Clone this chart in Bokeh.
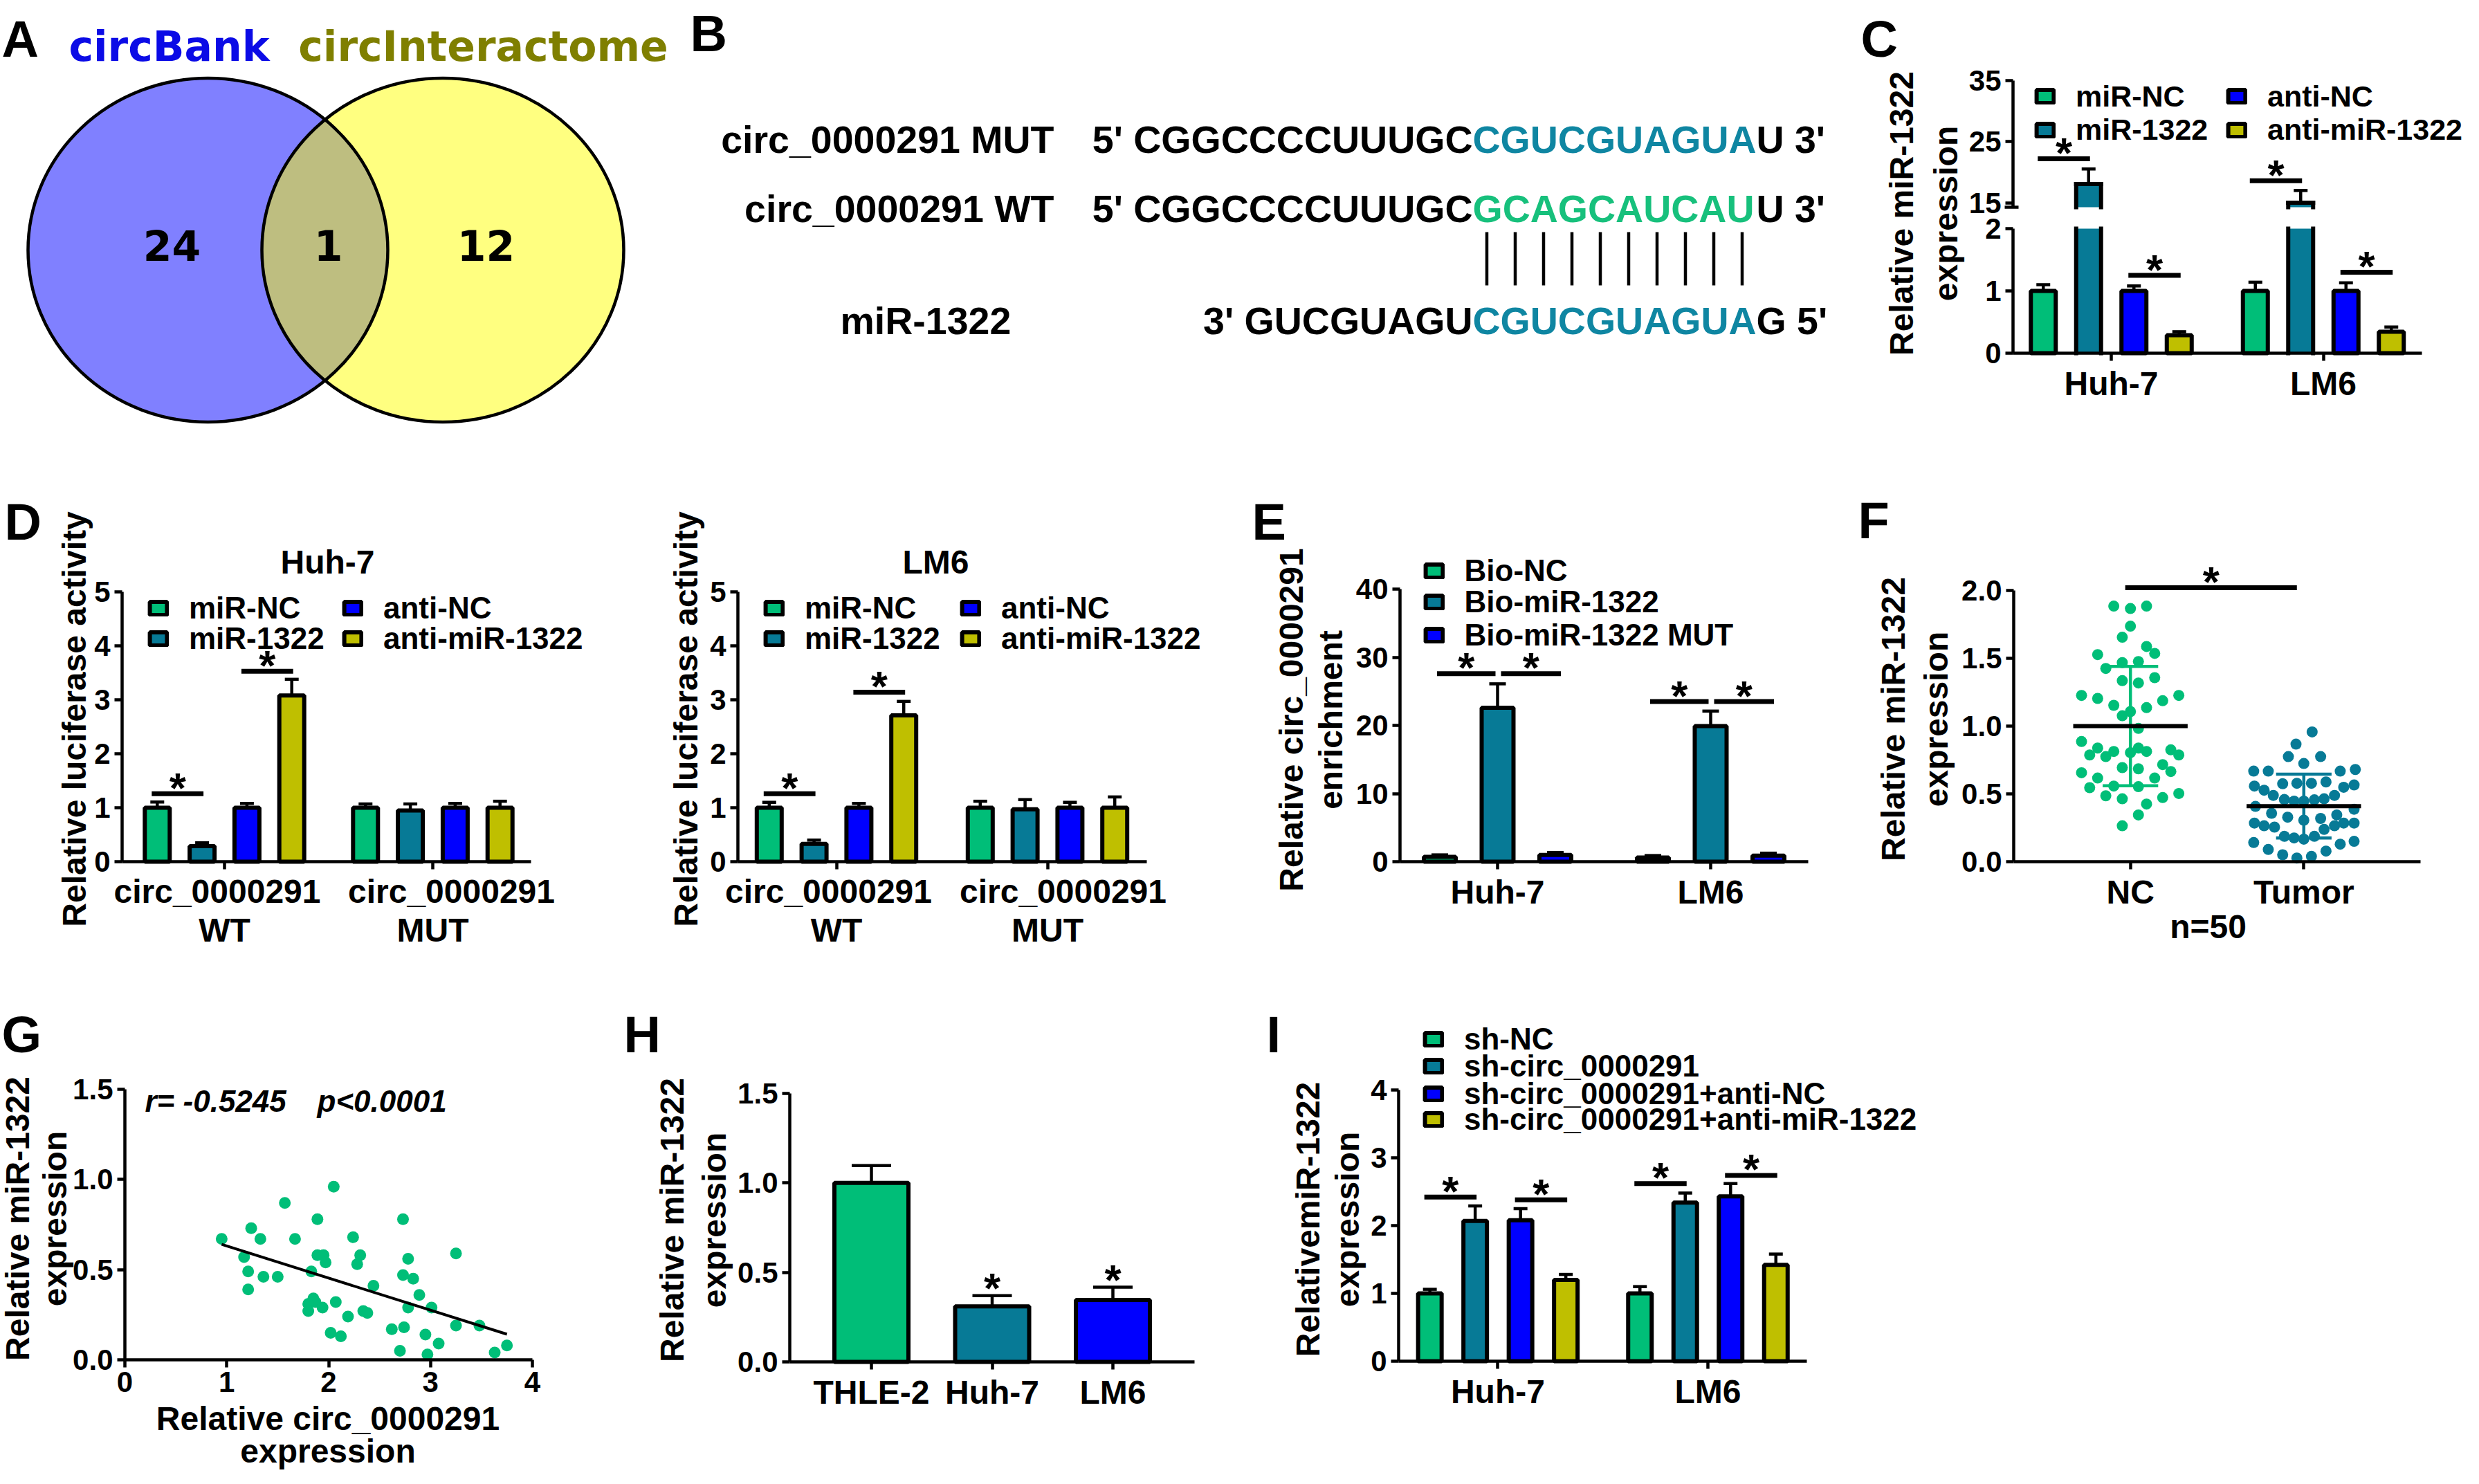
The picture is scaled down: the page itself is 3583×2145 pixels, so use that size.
import numpy as np
from bokeh.plotting import figure
from bokeh.models import (Range1d, Label, Legend, LegendItem, FixedTicker, NumeralTickFormatter,
                          LinearAxis)
from bokeh.layouts import row, column
from bokeh.embed import file_html
from bokeh.resources import INLINE
from bokeh.core.properties import value

# ======================= DATA =======================
venn_titles = ["circBank", "circInteractome"]
venn_counts = [24, 1, 12]

b_names = ["circ_0000291 MUT", "circ_0000291 WT", "miR-1322"]
b_mut = ["5' CGGCCCCUUUGC", "CGUCGUAGUA", "U 3'"]
b_wt = ["5' CGGCCCCUUUGC", "GCAGCAUCAU", "U 3'"]
b_mir = ["3' GUCGUAGU", "CGUCGUAGUA", "G 5'"]

c_groups = ["Huh-7", "LM6"]
c_series = ["miR-NC", "miR-1322", "anti-NC", "anti-miR-1322"]
c_mean = [[1.00, 18.06, 1.00, 0.29], [1.00, 15.00, 1.00, 0.345]]
c_err = [[0.10, 2.45, 0.08, 0.055], [0.14, 2.00, 0.13, 0.075]]

d_groups = [("circ_0000291", "WT"), ("circ_0000291", "MUT")]
d_huh7_mean = [[1.00, 0.29, 1.00, 3.08], [1.00, 0.95, 1.00, 1.00]]
d_huh7_err = [[0.105, 0.06, 0.08, 0.30], [0.07, 0.12, 0.08, 0.12]]
d_lm6_mean = [[1.00, 0.33, 1.00, 2.71], [1.00, 0.97, 1.00, 1.00]]
d_lm6_err = [[0.10, 0.07, 0.08, 0.26], [0.12, 0.18, 0.10, 0.20]]

e_groups = ["Huh-7", "LM6"]
e_series = ["Bio-NC", "Bio-miR-1322", "Bio-miR-1322 MUT"]
e_mean = [[0.7, 22.6, 1.0], [0.6, 19.9, 0.9]]
e_err = [[0.3, 3.5, 0.35], [0.3, 2.2, 0.35]]

f_groups = ["NC", "Tumor"]
f_nc_x = [-0.096, 0, 0.093, 0, -0.047, 0.093, 0.140, -0.189, -0.047, 0.046,
          -0.142, -0.047, 0.046, 0.140, -0.282, -0.189, 0.279, 0.186, -0.096, 0.093,
          0, -0.047, 0.046, -0.282, -0.189, -0.235, -0.142, -0.096, 0, 0.046,
          0.093, 0.233, 0.279, -0.047, 0.046, 0.186, 0.233, -0.282, -0.189, 0.140,
          -0.235, -0.096, 0.046, -0.142, -0.047, 0.186, 0.279, 0.093, 0.046, -0.047]
f_nc_y = [1.885, 1.867, 1.885, 1.737, 1.655, 1.587, 1.536, 1.527, 1.468, 1.476,
          1.425, 1.335, 1.318, 1.357, 1.226, 1.204, 1.226, 1.187, 1.153, 1.136,
          1.107, 1.076, 0.983, 0.886, 0.838, 0.787, 0.775, 0.813, 0.804, 0.838,
          0.813, 0.825, 0.787, 0.694, 0.685, 0.716, 0.665, 0.656, 0.617, 0.617,
          0.546, 0.558, 0.553, 0.486, 0.464, 0.473, 0.503, 0.425, 0.345, 0.265]
f_tu_x = [0.048, -0.045, -0.089, 0.097, 0, -0.289, -0.205, 0.210, 0.297, -0.285,
          -0.229, -0.122, -0.040, 0.044, 0.128, 0.230, 0.290, -0.176, -0.112, -0.056,
          0, 0.061, 0.117, 0.177, -0.279, 0.290, -0.186, -0.093, 0, 0.097,
          0.190, -0.285, -0.229, -0.169, 0.117, 0.177, 0.230, 0.290, -0.112, -0.056,
          0, 0.061, -0.289, -0.205, 0.210, 0.290, -0.122, -0.040, 0.044, 0.128]
f_tu_y = [0.957, 0.867, 0.775, 0.775, 0.724, 0.668, 0.668, 0.668, 0.680, 0.558,
          0.527, 0.575, 0.578, 0.578, 0.588, 0.549, 0.566, 0.489, 0.459, 0.447,
          0.447, 0.456, 0.464, 0.489, 0.408, 0.387, 0.357, 0.328, 0.306, 0.319,
          0.345, 0.285, 0.265, 0.255, 0.238, 0.265, 0.285, 0.285, 0.187, 0.175,
          0.166, 0.187, 0.141, 0.090, 0.129, 0.150, 0.051, 0.027, 0.039, 0.078]
f_mean = [1.00, 0.41]
f_sd = [0.44, 0.235]
f_note = "n=50"

g_x = [0.95, 1.24, 1.33, 1.17, 1.21, 1.36, 1.50, 1.21, 1.57, 1.67, 1.89, 1.89, 1.95, 1.97,
       1.83, 1.85, 1.87, 1.80, 1.80, 1.94, 2.05, 2.07, 2.02, 2.12, 2.19, 2.24, 2.31, 2.28,
       2.34, 2.38, 2.44, 2.73, 2.78, 2.73, 2.83, 2.78, 2.89, 3.01, 2.74, 2.62, 2.95, 2.70,
       2.97, 3.08, 3.25, 3.25, 3.48, 3.63, 3.75]
g_y = [0.67, 0.73, 0.67, 0.57, 0.49, 0.46, 0.46, 0.39, 0.87, 0.67, 0.78, 0.58, 0.58, 0.54,
       0.49, 0.34, 0.32, 0.31, 0.27, 0.29, 0.96, 0.32, 0.15, 0.13, 0.24, 0.68, 0.58, 0.53,
       0.27, 0.26, 0.41, 0.78, 0.56, 0.47, 0.45, 0.29, 0.36, 0.29, 0.18, 0.17, 0.14, 0.05,
       0.03, 0.09, 0.59, 0.19, 0.19, 0.04, 0.08]
g_stats = ["r= -0.5245", "p<0.0001"]

h_cells = ["THLE-2", "Huh-7", "LM6"]
h_mean = [1.00, 0.31, 0.346]
h_err = [0.097, 0.06, 0.072]
h_sig = [1, 2]

i_groups = ["Huh-7", "LM6"]
i_series = ["sh-NC", "sh-circ_0000291", "sh-circ_0000291+anti-NC", "sh-circ_0000291+anti-miR-1322"]
i_mean = [[1.00, 2.07, 2.08, 1.20], [1.00, 2.34, 2.43, 1.42]]
i_err = [[0.06, 0.22, 0.17, 0.08], [0.10, 0.14, 0.19, 0.16]]

# ======================= STYLE =======================
FONT = "Liberation Sans"
VENN_FONT = "DejaVu Sans"
GREEN = "#00BE78"
TEAL = "#077A96"
BLUE = "#0000FF"
OLIVE = "#BFBF00"
SEQ_TEAL = "#0F86A2"
SEQ_GREEN = "#17C07C"
COLORS4 = [GREEN, TEAL, BLUE, OLIVE]
COLORS3 = [GREEN, TEAL, BLUE]
ITEM_H = 50
LEG_SHIFT = 8
BAR_LW = 6


class Panel:
    """A figure placed at (ox, oy) of size w x h (reference pixels); its frame is the whole
    figure. Data mapping: x = (ref_x - x0ref)/xppu, y = (y0ref - ref_y)/yppu."""

    def __init__(self, ox, oy, w, h, x0ref, xppu, y0ref, yppu, axes=True):
        self.fl, self.fr, self.ft, self.fb = ox, ox + w, oy, oy + h
        self.x0ref, self.xppu, self.y0ref, self.yppu = x0ref, xppu, y0ref, yppu
        kw = {}
        if not axes:
            kw["x_axis_location"] = None
            kw["y_axis_location"] = None
        self.p = figure(width=w, height=h, title=None,
                        x_range=Range1d(self.dx(self.fl), self.dx(self.fr)),
                        y_range=Range1d(self.dy(self.fb), self.dy(self.ft)),
                        output_backend="svg", toolbar_location=None,
                        min_border_left=0, min_border_right=0,
                        min_border_top=0, min_border_bottom=0, **kw)
        p = self.p
        p.outline_line_color = None
        p.xgrid.visible = False
        p.ygrid.visible = False
        p.background_fill_color = "white"
        p.border_fill_color = "white"

    def dx(self, rx):
        return (rx - self.x0ref) / self.xppu

    def dy(self, ry):
        return (self.y0ref - ry) / self.yppu


def lab(P, rx, ry, text, size, color="black", align="left", baseline="alphabetic",
        angle=0, font=FONT, style="bold"):
    P.p.add_layout(Label(x=P.dx(rx), y=P.dy(ry), text=text, text_font=font,
                         text_font_size=f"{size}px", text_font_style=style, text_color=color,
                         text_align=align, text_baseline=baseline, angle=angle, angle_units="deg"))


def ytitle(P, lines, cy, size=48):
    for text, cx in lines:
        lab(P, cx, cy, text, size, align="center", baseline="middle", angle=90)


def style_axis(ax, fs):
    ax.axis_line_width = 4.5
    ax.axis_line_color = "black"
    ax.major_tick_line_width = 4.5
    ax.major_tick_line_color = "black"
    ax.major_tick_out = 11
    ax.major_tick_in = 0
    ax.minor_tick_line_color = None
    ax.major_label_text_font = FONT
    ax.major_label_text_font_style = "bold"
    ax.major_label_text_font_size = f"{fs}px"
    ax.major_label_text_color = "black"
    ax.major_label_standoff = 6


def axes_fixed(P, axx, axy, xend, xticks, xlabels, yticks, ytop, yfmt=None, xfs=48, yfs=42):
    """Axes drawn at fixed positions inside a full-figure frame."""
    xa = P.p.xaxis[0]
    ya = P.p.yaxis[0]
    style_axis(xa, xfs)
    style_axis(ya, yfs)
    xa.fixed_location = P.dy(axy)
    ya.fixed_location = P.dx(axx)
    xa.bounds = (P.dx(axx), P.dx(xend))
    ya.bounds = (P.dy(axy), ytop)
    xa.ticker = FixedTicker(ticks=xticks)
    if xlabels is not None:
        xa.major_label_overrides = {t: l for t, l in zip(xticks, xlabels)}
    ya.ticker = FixedTicker(ticks=yticks)
    if yfmt:
        ya.formatter = NumeralTickFormatter(format=yfmt)


def errbars(P, xs, tops, etop, capw, rn="default"):
    if not xs:
        return
    P.p.segment(x0=xs, y0=tops, x1=xs, y1=etop, line_color="black", line_width=4.5, y_range_name=rn)
    P.p.segment(x0=[x - capw / 2 for x in xs], y0=etop, x1=[x + capw / 2 for x in xs],
                y1=etop, line_color="black", line_width=4.5, y_range_name=rn)


def outline(P, xs, y0, tops, bw, top_line, rn="default"):
    n = len(xs)
    if n == 0:
        return
    P.p.segment(x0=[x - bw / 2 for x in xs] + [x + bw / 2 for x in xs], y0=[y0] * (2 * n),
                x1=[x - bw / 2 for x in xs] + [x + bw / 2 for x in xs], y1=list(tops) * 2,
                line_color="black", line_width=BAR_LW, line_cap="square", y_range_name=rn)
    if top_line:
        P.p.segment(x0=[x - bw / 2 for x in xs], y0=tops, x1=[x + bw / 2 for x in xs], y1=tops,
                    line_color="black", line_width=BAR_LW, line_cap="square", y_range_name=rn)


def grouped(P, means, errs, colors, step, bw, capw):
    ns = len(colors)
    ng = len(means)
    rends = []
    for s in range(ns):
        xs = [g + (s - (ns - 1) / 2) * step for g in range(ng)]
        tops = [means[g][s] for g in range(ng)]
        etop = [means[g][s] + errs[g][s] for g in range(ng)]
        errbars(P, xs, tops, etop, capw)
        r = P.p.vbar(x=xs, top=tops, bottom=0, width=bw, fill_color=colors[s],
                     line_color="black", line_width=BAR_LW)
        rends.append(r)
    return rends


def star(P, x, y, gap, rn="default"):
    P.p.text(x=[x], y=[y], text=["*"], text_align="center", text_baseline="alphabetic",
             y_offset=9 - gap, text_font=value(FONT), text_font_style="bold",
             text_font_size="62px", text_color="black", y_range_name=rn)


def bracket(P, x0, x1, y, rn="default"):
    P.p.segment(x0=[x0], y0=[y], x1=[x1], y1=[y], line_color="black", line_width=7, y_range_name=rn)
    star(P, (x0 + x1) / 2, y, 18, rn)


def gbrackets(P, sigs, ns, step, rn="default"):
    for g, i, j, y in sigs:
        xi = g + (i - (ns - 1) / 2) * step - 8 / P.xppu
        xj = g + (j - (ns - 1) / 2) * step + 2 / P.xppu
        bracket(P, xi, xj, y, rn)


def leg(P, r, text, sw_left, cy, fs=44):
    lg = Legend(items=[LegendItem(label=value(text), renderers=[r])],
                location=(sw_left + 3 - P.fl, P.fb - cy - ITEM_H / 2 - LEG_SHIFT),
                orientation="vertical", glyph_width=31, glyph_height=24, label_standoff=29,
                padding=0, margin=0, spacing=0, border_line_color=None,
                background_fill_alpha=0, label_text_font=FONT, label_text_font_style="bold",
                label_text_font_size=f"{fs}px", label_text_color="black")
    P.p.add_layout(lg)


# ======================= PANEL A =======================
A = Panel(8, 8, 982, 647, 0, 1, 655, 1, axes=False)
ell_x = [308, 647.5]
ell_w = [520, 523]
ell_cy = 369
ell_h = 497
A.p.ellipse(x=[ell_x[0]], y=[A.dy(ell_cy)], width=[ell_w[0]], height=[ell_h],
            fill_color="#8080FF", line_color=None)
A.p.ellipse(x=[ell_x[1]], y=[A.dy(ell_cy)], width=[ell_w[1]], height=[ell_h],
            fill_color="#FFFF80", line_color=None)
t1 = np.linspace(-np.pi / 2, np.pi / 2, 721)
lx1 = ell_x[0] + ell_w[0] / 2 * np.cos(t1)
ly1 = ell_cy + ell_h / 2 * np.sin(t1)
in2 = ((lx1 - ell_x[1]) / (ell_w[1] / 2)) ** 2 + ((ly1 - ell_cy) / (ell_h / 2)) ** 2 <= 1
t2 = np.linspace(np.pi / 2, 3 * np.pi / 2, 721)
lx2 = ell_x[1] + ell_w[1] / 2 * np.cos(t2)
ly2 = ell_cy + ell_h / 2 * np.sin(t2)
in1 = ((lx2 - ell_x[0]) / (ell_w[0] / 2)) ** 2 + ((ly2 - ell_cy) / (ell_h / 2)) ** 2 <= 1
lens_x = np.concatenate([lx1[in2], lx2[in1]])
lens_y = np.concatenate([ly1[in2], ly2[in1]])
A.p.patch(x=lens_x, y=[A.dy(v) for v in lens_y], fill_color="#BEBE80", line_color=None)
for k in range(2):
    A.p.ellipse(x=[ell_x[k]], y=[A.dy(ell_cy)], width=[ell_w[k]], height=[ell_h],
                fill_color=None, line_color="black", line_width=4.5)
A.p.text(x=[256, 482, 710], y=[A.dy(362)] * 3, text=[str(v) for v in venn_counts],
         text_font=value(VENN_FONT), text_font_style="bold", text_font_size="60px",
         text_align="center", text_baseline="middle", text_color="black")
lab(A, 252, 74, venn_titles[0], 60, color="#0B0BE6", align="center", font=VENN_FONT)
lab(A, 706, 74, venn_titles[1], 60, color="#7F7F00", align="center", font=VENN_FONT)
lab(A, 10, 64, "A", 74)

# ======================= PANEL B =======================
B = Panel(990, 8, 1700, 647, 0, 1, 655, 1, axes=False)
B_FS = "55.5px"


def btext(x, ry, s, color, align):
    B.p.text(x=[x], y=[B.dy(ry)], text=[s], text_font=value(FONT), text_font_style="bold",
             text_font_size=B_FS, text_color=color, text_align=align, text_baseline="alphabetic")


b_base = [209, 309, 471]
btext(1531, b_base[0], b_names[0], "black", "right")
btext(1531, b_base[1], b_names[1], "black", "right")
btext(1222, b_base[2], b_names[2], "black", "left")
core_l, core_r = 2136, 2546
for parts, col, ry in [(b_mut, SEQ_TEAL, b_base[0]), (b_wt, SEQ_GREEN, b_base[1]), (b_mir, SEQ_TEAL, b_base[2])]:
    btext(core_l, ry, parts[0], "black", "right")
    btext(core_l, ry, parts[1], col, "left")
    btext(core_r, ry, parts[2], "black", "left")
npair = len(b_wt[1])
pair_x = [core_l + (k + 0.5) * (core_r - core_l) / npair for k in range(npair)]
B.p.segment(x0=pair_x, y0=[B.dy(343)] * npair, x1=pair_x, y1=[B.dy(420)] * npair,
            line_color="black", line_width=4.5)
lab(B, 1005, 56, "B", 74)

# ======================= PANEL C (broken y axis: two scales in one frame) =======================
C = Panel(2690, 8, 885, 647, 3059, 306.5, 518, 90)
C_UP0, C_UPPU = 124 + 35 * 8.825, 8.825


def c_dyu(ry):
    return (C_UP0 - ry) / C_UPPU


C.p.extra_y_ranges = {"up": Range1d(c_dyu(655), c_dyu(8))}
axes_fixed(C, 2917, 518, 3508, [0, 1], c_groups, [0, 1, 2], 2)
c_lo_cut = C.dy(338)
c_up_cut = c_dyu(307)
c_ax_up = LinearAxis(y_range_name="up", fixed_location=C.dx(2917), bounds=(c_up_cut, 35),
                     ticker=FixedTicker(ticks=[15, 25, 35]))
style_axis(c_ax_up, 42)
C.p.add_layout(c_ax_up, "left")
C.p.segment(x0=[C.dx(2905)], y0=[c_up_cut], x1=[C.dx(2925)], y1=[c_up_cut],
            line_color="black", line_width=4.5, y_range_name="up")
c_step, c_bw, c_cap = 65.5 / 306.5, 36 / 306.5, 20 / 306.5
for s in range(len(c_series)):
    xs = [g + (s - 1.5) * c_step for g in range(len(c_groups))]
    vals = [c_mean[g][s] for g in range(len(c_groups))]
    etop = [c_mean[g][s] + c_err[g][s] for g in range(len(c_groups))]
    lo = [k for k in range(len(xs)) if vals[k] <= c_lo_cut]
    hi = [k for k in range(len(xs)) if vals[k] > c_lo_cut]
    errbars(C, [xs[k] for k in lo], [vals[k] for k in lo], [etop[k] for k in lo], c_cap)
    errbars(C, [xs[k] for k in hi], [vals[k] for k in hi], [etop[k] for k in hi], c_cap, "up")
    if lo:
        C.p.vbar(x=[xs[k] for k in lo], top=[vals[k] for k in lo], bottom=0, width=c_bw,
                 fill_color=COLORS4[s], line_color="black", line_width=BAR_LW)
    if hi:
        hx_ = [xs[k] for k in hi]
        hv_ = [vals[k] for k in hi]
        C.p.vbar(x=hx_, top=[min(v, c_lo_cut) for v in hv_], bottom=0, width=c_bw,
                 fill_color=COLORS4[s], line_color=None)
        outline(C, hx_, 0, [min(v, c_lo_cut) for v in hv_], c_bw, False)
        C.p.vbar(x=hx_, top=hv_, bottom=c_up_cut, width=c_bw, fill_color=COLORS4[s],
                 line_color=None, y_range_name="up")
        outline(C, hx_, c_up_cut, hv_, c_bw, True, "up")
gbrackets(C, [(0, 0, 1, 22.2), (1, 0, 1, 18.6)], 4, c_step, "up")
gbrackets(C, [(0, 2, 3, 1.25), (1, 2, 3, 1.30)], 4, c_step)
# legend proxies carrying the bar style of each series
c_proxy = [C.p.rect(x=[np.nan], y=[np.nan], width=c_bw, height=1, fill_color=col,
                    line_color="black", line_width=BAR_LW) for col in COLORS4]
leg(C, c_proxy[0], c_series[0], 2945, 138.5, fs=43)
leg(C, c_proxy[1], c_series[1], 2945, 187, fs=43)
leg(C, c_proxy[2], c_series[2], 3222, 138.5, fs=43)
leg(C, c_proxy[3], c_series[3], 3222, 187, fs=43)
ytitle(C, [("Relative miR-1322", 2756), ("expression", 2820)], 316)
lab(C, 2697, 64, "C", 74)

# ======================= PANEL D =======================
D1 = Panel(8, 655, 952, 785, 332, 301, 1253, 78)
D2 = Panel(960, 655, 840, 785, 1216.5, 305, 1253, 78)
for P, means, errs, sig2, sw1, sw2, tx, tt, yx, axx, xend, lx in [
        (D1, d_huh7_mean, d_huh7_err, 3.53, 218, 499, 481, "Huh-7", 115, 184, 775, (321.5, 660)),
        (D2, d_lm6_mean, d_lm6_err, 3.14, 1108, 1392, 1360, "LM6", 999, 1074, 1665, (1205, 1544))]:
    step = 64.8 / P.xppu
    axes_fixed(P, axx, 1253, xend, [0, 1], ["", ""], [0, 1, 2, 3, 4, 5], 5)
    rd = grouped(P, means, errs, COLORS4, step, 36 / P.xppu, 20 / P.xppu)
    gbrackets(P, [(0, 0, 1, 1.26), (0, 2, 3, sig2)], 4, step)
    leg(P, rd[0], c_series[0], sw1, 878.5)
    leg(P, rd[1], c_series[1], sw1, 923)
    leg(P, rd[2], c_series[2], sw2, 878.5)
    leg(P, rd[3], c_series[3], sw2, 923)
    lab(P, tx, 820, tt, 48, align="center")
    ytitle(P, [("Relative luciferase activity", yx)], 1047)
    for g, (l1, l2) in enumerate(d_groups):
        lab(P, lx[g], 1296, l1, 48, align="center", baseline="middle")
        lab(P, P.x0ref + g * P.xppu, 1352, l2, 48, align="center", baseline="middle")
lab(D1, 14, 762, "D", 74)

# ======================= PANEL E =======================
E = Panel(1800, 655, 880, 785, 2172, 308, 1253, 9.85)
e_step = 83.5 / 308
axes_fixed(E, 2031, 1253, 2621, [0, 1], e_groups, [0, 10, 20, 30, 40], 40)
re_ = grouped(E, e_mean, e_err, COLORS3, e_step, 46 / 308, 24 / 308)
for g, y in [(0, 27.6), (1, 23.5)]:
    bracket(E, g - e_step - 4 / 308, g - 3 / 308, y)
    bracket(E, g + 5 / 308, g + e_step + 8 / 308, y)
for k, cy in enumerate([825, 869.6, 918]):
    leg(E, re_[k], e_series[k], 2061.5, cy)
ytitle(E, [("Relative circ_0000291", 1874), ("enrichment", 1931)], 1048)
lab(E, 1817, 762, "E", 74)

# ======================= PANEL F =======================
F = Panel(2680, 655, 895, 785, 3086.7, 250.6, 1253, 196)
axes_fixed(F, 2918, 1253, 3506, [0, 1], f_groups, [0, 0.5, 1, 1.5, 2], 2, yfmt="0.0")
F.p.scatter(x=[0 + v for v in f_nc_x], y=f_nc_y, size=16, fill_color=GREEN, line_color=None)
F.p.scatter(x=[1 + v for v in f_tu_x], y=f_tu_y, size=16, fill_color=TEAL, line_color=None)
for k, col in enumerate([GREEN, TEAL]):
    m, s = f_mean[k], f_sd[k]
    F.p.segment(x0=[k], y0=[m - s], x1=[k], y1=[m + s], line_color=col, line_width=4.5)
    F.p.segment(x0=[k - 0.16] * 2, y0=[m - s, m + s], x1=[k + 0.16] * 2, y1=[m - s, m + s],
                line_color=col, line_width=4.5)
    F.p.segment(x0=[k - 0.33], y0=[m], x1=[k + 0.33], y1=[m], line_color="black", line_width=6)
bracket(F, -0.03, 0.96, 2.02)
lab(F, 3199, 1347, f_note, 48, align="center")
ytitle(F, [("Relative miR-1322", 2744), ("expression", 2806)], 1047)
lab(F, 2693, 760, "F", 74)

# ======================= PANEL G =======================
G = Panel(8, 1440, 897, 697, 188, 147.25, 1973, 260.7)
axes_fixed(G, 188, 1973, 777, [0, 1, 2, 3, 4], None, [0, 0.5, 1, 1.5], 1.5, yfmt="0.0", xfs=42)
G.p.scatter(x=g_x, y=g_y, size=17, fill_color=GREEN, line_color=None)
slope, icpt = np.polyfit(g_x, g_y, 1)
fx = [min(g_x), max(g_x)]
G.p.line(x=fx, y=[slope * v + icpt for v in fx], line_color="black", line_width=4)
lab(G, 217, 1599, g_stats[0], 44, style="bold italic")
lab(G, 466, 1599, g_stats[1], 44, style="bold italic")
ytitle(G, [("Relative miR-1322", 33), ("expression", 87)], 1769)
lab(G, 481.5, 2058, "Relative circ_0000291", 48, align="center", baseline="middle")
lab(G, 481.5, 2105, "expression", 48, align="center", baseline="middle")
lab(G, 10, 1503, "G", 74)

# ======================= PANEL H =======================
H = Panel(905, 1440, 930, 697, 1267, 174.5, 1976, 258.67)
axes_fixed(H, 1149, 1976, 1734, [0, 1, 2], h_cells, [0, 0.5, 1, 1.5], 1.5, yfmt="0.0")
hx = list(range(len(h_cells)))
h_top = [m + e for m, e in zip(h_mean, h_err)]
errbars(H, hx, h_mean, h_top, 57 / 174.5)
H.p.vbar(x=hx, top=h_mean, bottom=0, width=107 / 174.5, fill_color=COLORS3,
         line_color="black", line_width=BAR_LW)
for i in h_sig:
    star(H, hx[i], h_top[i], 20)
ytitle(H, [("Relative miR-1322", 979), ("expression", 1040)], 1771)
lab(H, 909, 1503, "H", 74)

# ======================= PANEL I =======================
I = Panel(1835, 1440, 1740, 697, 2172.4, 303.6, 1975, 98)
i_step = 65.5 / 303.6
axes_fixed(I, 2029, 1975, 2619, [0, 1], i_groups, [0, 1, 2, 3, 4], 4)
ri = grouped(I, i_mean, i_err, COLORS4, i_step, 34 / 303.6, 20 / 303.6)
gbrackets(I, [(0, 0, 1, 2.42), (0, 2, 3, 2.38), (1, 0, 1, 2.62), (1, 2, 3, 2.74)], 4, i_step)
for k, cy in enumerate([1502, 1541, 1581, 1618]):
    leg(I, ri[k], i_series[k], 2061, cy)
ytitle(I, [("RelativemiR-1322", 1898), ("expression", 1955)], 1770)
lab(I, 1838, 1503, "I", 74)

layout = column(
    row(A.p, B.p, C.p, spacing=0),
    row(D1.p, D2.p, E.p, F.p, spacing=0),
    row(G.p, H.p, I.p, spacing=0),
    spacing=0)

open("out.html", "w").write(file_html(layout, INLINE, title="Figure"))
